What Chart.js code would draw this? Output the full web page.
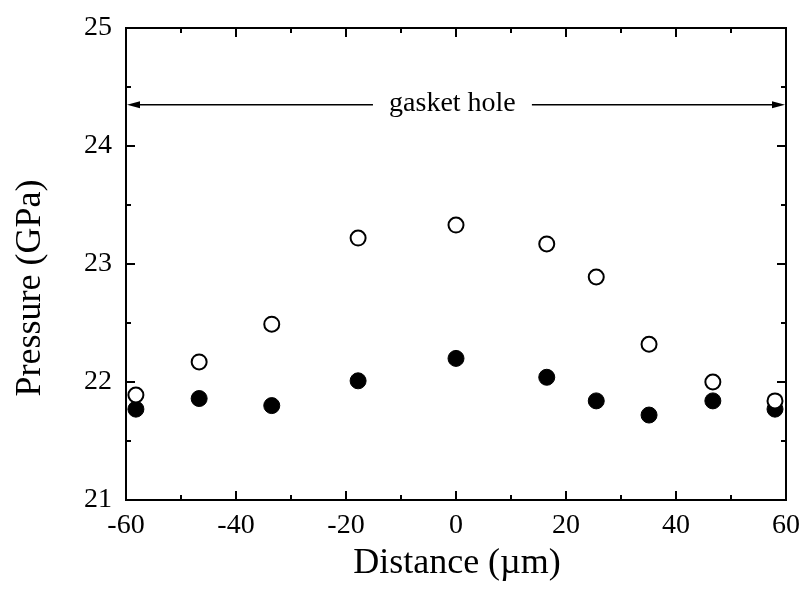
<!DOCTYPE html>
<html>
<head>
<meta charset="utf-8">
<script src="https://cdn.jsdelivr.net/npm/chart.js@4/dist/chart.umd.min.js"></script>
<style>
  html, body { margin: 0; padding: 0; background: #fff; }
  #wrap { width: 802px; height: 590px; position: relative; }
</style>
</head>
<body>
<div id="wrap"><canvas id="plot"></canvas></div>
<script>
// distance (um) of each measurement spot
const distance = [-58.2, -46.7, -33.5, -17.8, 0, 16.5, 25.5, 35.1, 46.7, 58.0];
// open circles
const pressureOpen = [21.89, 22.17, 22.49, 23.22, 23.33, 23.17, 22.89, 22.32, 22.0, 21.84];
// filled circles
const pressureFilled = [21.77, 21.86, 21.80, 22.01, 22.20, 22.04, 21.84, 21.72, 21.84, 21.77];

const xMajorTicks = [-60, -40, -20, 0, 20, 40, 60];
const xMinorTicks = [-50, -30, -10, 10, 30, 50];
const yMajorTicks = [21, 22, 23, 24, 25];
const yMinorTicks = [21.5, 22.5, 23.5, 24.5];

const holeLabel = 'gasket hole';
const holeLevel = 24.35;
const holeGapLeft = -15.1;
const holeGapRight = 13.8;

const serif = '"Liberation Serif", "Times New Roman", serif';

const framePlugin = {
  id: 'frame',
  afterDatasetsDraw(chart) {
    const { ctx, chartArea: a, scales: { x, y } } = chart;
    ctx.save();
    ctx.strokeStyle = '#000';
    ctx.fillStyle = '#000';

    // frame
    ctx.lineWidth = 2;
    ctx.strokeRect(a.left, a.top, a.right - a.left, a.bottom - a.top);

    // inward ticks on all four sides
    const tick = (vals, len) => {
      vals.forEach((v) => {
        const px = x.getPixelForValue(v);
        ctx.beginPath();
        ctx.moveTo(px, a.bottom); ctx.lineTo(px, a.bottom - len);
        ctx.moveTo(px, a.top); ctx.lineTo(px, a.top + len);
        ctx.stroke();
      });
    };
    const tickY = (vals, len) => {
      vals.forEach((v) => {
        const py = y.getPixelForValue(v);
        ctx.beginPath();
        ctx.moveTo(a.left, py); ctx.lineTo(a.left + len, py);
        ctx.moveTo(a.right, py); ctx.lineTo(a.right - len, py);
        ctx.stroke();
      });
    };
    tick(xMajorTicks, 9);
    tick(xMinorTicks, 5);
    tickY(yMajorTicks, 9);
    tickY(yMinorTicks, 5);

    // gasket hole arrows
    const ly = y.getPixelForValue(holeLevel);
    const x0 = x.getPixelForValue(x.min);
    const x1 = x.getPixelForValue(holeGapLeft);
    const x2 = x.getPixelForValue(holeGapRight);
    const x3 = x.getPixelForValue(x.max);
    ctx.lineWidth = 1.6;
    ctx.beginPath();
    ctx.moveTo(x0 + 8, ly); ctx.lineTo(x1, ly);
    ctx.moveTo(x2, ly); ctx.lineTo(x3 - 8, ly);
    ctx.stroke();
    ctx.beginPath();
    ctx.moveTo(x0 + 1, ly); ctx.lineTo(x0 + 14, ly - 3.5); ctx.lineTo(x0 + 14, ly + 3.5);
    ctx.closePath();
    ctx.moveTo(x3 - 1, ly); ctx.lineTo(x3 - 14, ly - 3.5); ctx.lineTo(x3 - 14, ly + 3.5);
    ctx.closePath();
    ctx.fill();

    ctx.font = '28px ' + serif;
    ctx.textAlign = 'center';
    ctx.textBaseline = 'middle';
    ctx.fillText(holeLabel, (x1 + x2) / 2, ly - 1);

    // axis titles
    ctx.font = '36px ' + serif;
    ctx.textBaseline = 'alphabetic';
    ctx.fillText('Distance (\u00b5m)', 457, 573);
    ctx.translate(40, 288);
    ctx.rotate(-Math.PI / 2);
    ctx.fillText('Pressure (GPa)', 0, 0);
    ctx.restore();
  },
};

new Chart(document.getElementById('plot'), {
  type: 'scatter',
  data: {
    datasets: [
      {
        label: 'open',
        data: distance.map((d, i) => ({ x: d, y: pressureOpen[i] })),
        pointRadius: 7.5,
        pointBorderWidth: 2,
        pointBackgroundColor: '#fff',
        pointBorderColor: '#000',
        clip: false,
      },
      {
        label: 'filled',
        data: distance.map((d, i) => ({ x: d, y: pressureFilled[i] })),
        pointRadius: 8,
        pointBorderWidth: 1,
        pointBackgroundColor: '#000',
        pointBorderColor: '#000',
        clip: false,
      },
    ],
  },
  options: {
    responsive: true,
    maintainAspectRatio: false,
    animation: false,
    events: [],
    layout: { padding: { top: 28, right: 16, left: 0, bottom: 0 } },
    plugins: { legend: { display: false }, tooltip: { enabled: false } },
    scales: {
      x: {
        type: 'linear',
        min: -60,
        max: 60,
        afterFit: (s) => { s.height = 90; s.paddingLeft = 0; s.paddingRight = 0; },
        grid: { display: false, drawTicks: false },
        border: { display: false },
        ticks: {
          stepSize: 20,
          padding: 9,
          color: '#000',
          font: { family: serif, size: 28 },
          maxRotation: 0,
        },
      },
      y: {
        type: 'linear',
        min: 21,
        max: 25,
        afterFit: (s) => { s.width = 126; s.paddingTop = 0; s.paddingBottom = 0; },
        grid: { display: false, drawTicks: false },
        border: { display: false },
        ticks: {
          stepSize: 1,
          padding: 14,
          color: '#000',
          font: { family: serif, size: 28 },
        },
      },
    },
  },
  plugins: [framePlugin],
});
</script>
</body>
</html>
